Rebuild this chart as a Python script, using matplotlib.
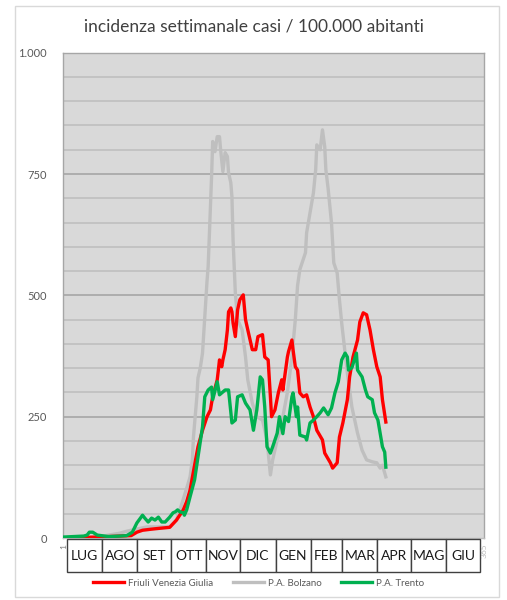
import matplotlib.pyplot as plt
from matplotlib.patches import Rectangle
from matplotlib.lines import Line2D

plt.rcParams['font.family'] = ['Lato', 'DejaVu Sans']

# days counted from the left edge of the plot area
fvg_days = [0, 30, 60, 65, 70, 77, 85, 94, 100, 106, 109, 112, 116, 119, 123, 127, 130, 131, 132, 136,
            137, 138, 140, 141, 143, 145, 146, 148, 149, 150, 152, 154, 156, 159, 161, 163, 167, 170, 172,
            176, 178, 181, 183, 184, 187, 190, 193, 194, 198, 199, 202, 203, 205, 207, 209, 212, 215, 218,
            221, 224, 229, 231, 236, 238, 242, 244, 247, 251, 253, 256, 260, 262, 265, 268, 271, 274, 277,
            280, 282, 285]
fvg_vals = [0, 2, 5, 12, 16, 18, 20, 22, 37, 58, 75, 99, 150, 188, 222, 250, 264, 278, 291, 326,
            346, 367, 353, 367, 388, 429, 466, 474, 466, 443, 415, 470, 491, 501, 450, 429, 388, 388, 415,
            419, 373, 367, 291, 250, 264, 299, 326, 305, 373, 384, 408, 388, 353, 346, 299, 291, 295, 270,
            250, 222, 202, 175, 155, 144, 155, 208, 237, 285, 332, 373, 408, 445, 464, 460, 429, 388, 353,
            332, 285, 239]

bz_days = [0, 30, 50, 56, 74, 85, 94, 100, 103, 106, 110, 112, 114, 115, 118, 119, 121, 123, 127, 128,
           131, 132, 134, 136, 138, 139, 141, 143, 145, 146, 148, 149, 150, 152, 154, 158, 161, 163, 167,
           171, 176, 180, 183, 185, 189, 191, 194, 198, 202, 205, 207, 209, 214, 215, 218, 221, 223, 224,
           227, 229, 231, 232, 234, 237, 239, 242, 244, 246, 251, 255, 260, 264, 268, 273, 277, 280, 282, 285]
bz_vals = [0, 2, 10, 14, 23, 23, 23, 37, 58, 80, 110, 126, 161, 208, 291, 330, 350, 381, 530, 560,
           744, 817, 796, 827, 827, 800, 755, 794, 786, 753, 732, 703, 614, 505, 450, 429, 373, 326, 278,
           250, 243, 202, 130, 161, 202, 216, 250, 300, 373, 450, 520, 553, 588, 629, 670, 711, 759, 810,
           800, 841, 806, 759, 720, 649, 567, 546, 491, 443, 340, 270, 216, 181, 161, 157, 155, 144, 150, 126]

tn_days = [0, 18, 21, 23, 26, 30, 40, 50, 56, 61, 65, 70, 72, 75, 78, 81, 84, 87, 90, 94, 97, 99, 101,
           103, 106, 107, 109, 112, 116, 119, 121, 123, 125, 128, 131, 132, 136, 138, 143, 146, 149, 152,
           154, 158, 161, 165, 168, 171, 174, 176, 178, 180, 183, 185, 189, 191, 194, 196, 199, 202, 203,
           206, 207, 209, 214, 215, 218, 221, 224, 227, 230, 234, 237, 240, 243, 246, 249, 251, 252, 255,
           259, 260, 264, 267, 269, 273, 275, 278, 282, 284, 285]
tn_vals = [2, 4, 6, 12, 12, 6, 3, 4, 5, 12, 31, 47, 41, 33, 41, 37, 43, 33, 33, 43, 52, 54, 58,
           54, 52, 47, 58, 85, 120, 167, 198, 229, 291, 305, 311, 285, 322, 295, 305, 305, 237, 243,
           291, 295, 278, 264, 222, 264, 332, 326, 270, 188, 175, 188, 216, 250, 215, 250, 240, 291, 299,
           250, 270, 212, 208, 202, 237, 243, 250, 258, 268, 254, 268, 299, 322, 367, 381, 373, 346, 351,
           381, 346, 332, 305, 291, 285, 258, 243, 188, 177, 146]

months = ['LUG', 'AGO', 'SET', 'OTT', 'NOV', 'DIC', 'GEN', 'FEB', 'MAR', 'APR', 'MAG', 'GIU']
month_len = [31, 31, 30, 31, 30, 31, 31, 28, 31, 30, 31, 30]
y_ticks = [0, 250, 500, 750, 1000]
y_labels = ['0', '250', '500', '750', '1.000']

fig = plt.figure(figsize=(5.07, 6.0), dpi=100)
fig.patches.append(Rectangle((0.03, 0.005), 0.955, 0.985, transform=fig.transFigure,
                             fill=False, edgecolor='#d9d9d9', linewidth=1))
ax = fig.add_axes([0.1249, 0.1033, 0.8303, 0.8089])
ax.set_facecolor('#d9d9d9')

# grid: light every 50, darker every 250
for v in range(50, 1000, 50):
    c = '#a6a6a6' if v % 250 == 0 else '#bfbfbf'
    ax.axhline(v, color=c, linewidth=1.2, zorder=1)

ax.plot(bz_days, bz_vals, color='#bfbfbf', linewidth=2.4, zorder=3)
ax.plot(fvg_days, fvg_vals, color='#ff0000', linewidth=2.4, zorder=4)
ax.plot(tn_days, tn_vals, color='#00b050', linewidth=2.4, zorder=5)

ax.set_xlim(0, 372)
ax.set_ylim(0, 1000)
ax.set_yticks(y_ticks)
ax.set_yticklabels(y_labels, fontsize=8, color='#595959')
ax.tick_params(axis='y', length=0, pad=12)
ax.set_xticks([])
for s in ax.spines.values():
    s.set_color('#a6a6a6')
    s.set_linewidth(1)
ax.spines['bottom'].set_color('#bfbfbf')

# rotated day labels at both ends, partly hidden like in the original
ax.text(0, -0.012, '1', transform=ax.get_xaxis_transform(), rotation=90, fontsize=6,
        color='#7f7f7f', ha='center', va='top')
ax.text(372, -0.012, '365', transform=ax.get_xaxis_transform(), rotation=90, fontsize=6,
        color='#bfbfbf', ha='center', va='top')

# month table under the axis
tr = ax.get_xaxis_transform()
start = 3.5
for m, n in zip(months, month_len):
    ax.add_patch(Rectangle((start, -0.0707), n, 0.068, transform=tr, clip_on=False,
                           facecolor='white', edgecolor='#404040', linewidth=1, zorder=6))
    ax.text(start + n / 2, -0.037, m, transform=tr, ha='center', va='center',
            fontsize=10, color='#1a1a1a', zorder=7)
    start += n

fig.text(0.5, 0.955, 'incidenza settimanale casi / 100.000 abitanti', ha='center', va='center',
         fontsize=12.5, color='#404040')

handles = [Line2D([], [], color='#ff0000', linewidth=2.4),
           Line2D([], [], color='#bfbfbf', linewidth=2.4),
           Line2D([], [], color='#00b050', linewidth=2.4)]
fig.legend(handles, ['Friuli Venezia Giulia', 'P.A. Bolzano', 'P.A. Trento'], loc='center',
           bbox_to_anchor=(0.51, 0.028), ncol=3, frameon=False, fontsize=7, labelcolor='#595959',
           handlelength=3.2, handletextpad=0.4, columnspacing=2.0)

fig.savefig('out.png', dpi=100)
